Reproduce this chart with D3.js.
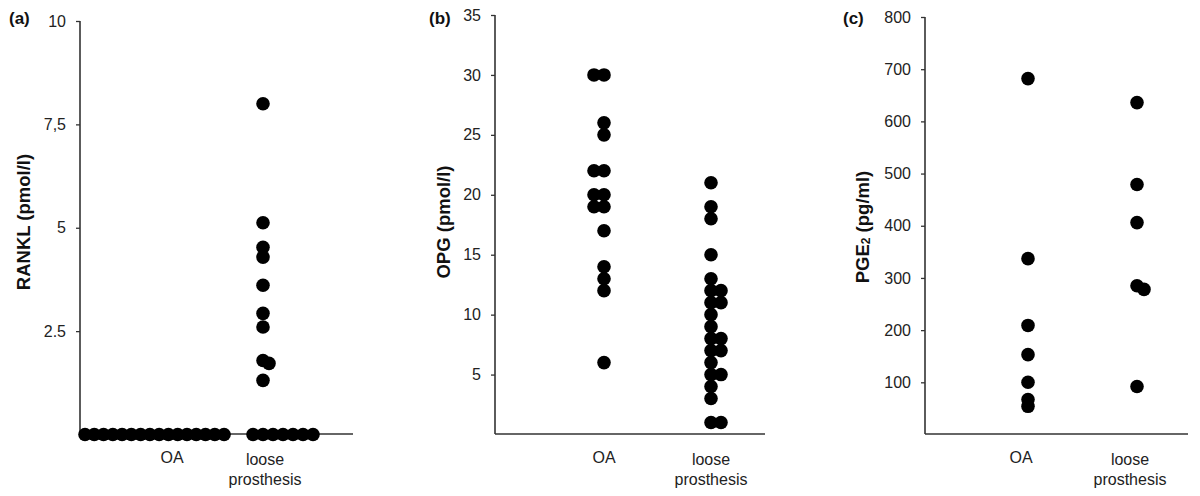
<!DOCTYPE html>
<html>
<head>
<meta charset="utf-8">
<script src="https://cdn.jsdelivr.net/npm/d3@7"></script>
<style>
  html, body { margin: 0; padding: 0; background: #fff; }
  svg { display: block; }
  text { font-family: "Liberation Sans", Arial, sans-serif; }
</style>
</head>
<body>
<svg id="chart" width="1200" height="496"></svg>
<script>
// ---------------- data ----------------
const categories = ["OA", "loose prosthesis"];

const ranklOA    = [0, 0, 0, 0, 0, 0, 0, 0, 0, 0, 0, 0, 0, 0, 0, 0];
const ranklLoose = [8.0, 5.12, 4.53, 4.29, 3.61, 2.93, 2.60, 1.79, 1.72, 1.31, 0, 0, 0, 0, 0, 0, 0];

const opgOA    = [30, 30, 26, 25, 22, 22, 20, 20, 19, 19, 17, 14, 13, 12, 6];
const opgLoose = [21, 19, 18, 15, 13, 12, 12, 11, 11, 10, 9, 8, 8, 7, 7, 6, 5, 5, 4, 3, 1, 1];

const pgeOA    = [682, 337, 209, 153, 100, 67, 54];
const pgeLoose = [636, 479, 406, 285, 278, 92];

const ranklTickValues = [10, 7.5, 5, 2.5];
const ranklTickLabels = ["10", "7,5", "5", "2.5"];
const opgTickValues = [35, 30, 25, 20, 15, 10, 5];
const opgTickLabels = ["35", "30", "25", "20", "15", "10", "5"];
const pgeTickValues = [800, 700, 600, 500, 400, 300, 200, 100];
const pgeTickLabels = ["800", "700", "600", "500", "400", "300", "200", "100"];

// ---------------- layout ----------------
const svg = d3.select("#chart");
const baseY = 434;

const panels = [
  {
    tag: "(a)", tagX: 9,
    title: "RANKL (pmol/l)", titleX: 23, titleY: 222,
    axisX: 80, axisEnd: 353, topY: 21, domain: [0, 10],
    tickValues: ranklTickValues, tickLabels: ranklTickLabels,
    catX: [172, 265], colShift: -2,
    groups: [
      { values: ranklOA, dir: 1, step: 6, zeroStart: -85, zeroStep: 9.27 },
      { values: ranklLoose, dir: 1, step: 6, zeroStart: -10, zeroStep: 10 }
    ]
  },
  {
    tag: "(b)", tagX: 429,
    title: "OPG (pmol/l)", titleX: 443, titleY: 222,
    axisX: 495, axisEnd: 765, topY: 15, domain: [0, 35],
    tickValues: opgTickValues, tickLabels: opgTickLabels,
    catX: [604, 711], colShift: 0,
    groups: [
      { values: opgOA, dir: -1, step: 10 },
      { values: opgLoose, dir: 1, step: 10 }
    ]
  },
  {
    tag: "(c)", tagX: 843,
    title: "PGE2 (pg/ml)", sub: true, titleX: 862, titleY: 227,
    axisX: 925, axisEnd: 1188, topY: 17, domain: [0, 800],
    tickValues: pgeTickValues, tickLabels: pgeTickLabels,
    catX: [1021, 1130], colShift: 7,
    groups: [
      { values: pgeOA, dir: 1, step: 7 },
      { values: pgeLoose, dir: 1, step: 7 }
    ]
  }
];

const R = 6.8;
const axisColor = "#333";
const textColor = "#222";

panels.forEach(p => {
  const y = d3.scaleLinear().domain(p.domain).range([baseY + (p.topY - baseY) * 0 + 0, p.topY]);
  // y(0) at baseline, y(max) at top tick
  y.range([baseY + 0.5, p.topY]);
  const x = d3.scalePoint().domain(categories).range(p.catX);

  const g = svg.append("g");

  // y axis
  const yAxis = d3.axisLeft(y)
    .tickValues(p.tickValues)
    .tickFormat((d, i) => p.tickLabels[i])
    .tickSize(4)
    .tickPadding(10);
  const ya = g.append("g").attr("transform", `translate(${p.axisX},0)`).call(yAxis);
  ya.select(".domain").remove();
  ya.selectAll(".tick line").attr("stroke", axisColor).attr("stroke-width", 1.3);
  ya.selectAll(".tick text")
    .attr("fill", textColor)
    .style("font-size", "16px")
    .style("font-family", "'Liberation Sans', Arial, sans-serif");

  // axis lines
  g.append("line")
    .attr("x1", p.axisX).attr("x2", p.axisX)
    .attr("y1", y(p.domain[1])).attr("y2", baseY)
    .attr("stroke", axisColor).attr("stroke-width", 1.6);
  g.append("line")
    .attr("x1", p.axisX).attr("x2", p.axisEnd)
    .attr("y1", baseY).attr("y2", baseY)
    .attr("stroke", axisColor).attr("stroke-width", 1.6);

  // category labels
  categories.forEach(c => {
    const words = c.split(" ");
    const t = g.append("text")
      .attr("x", x(c)).attr("text-anchor", "middle")
      .attr("fill", textColor).style("font-size", "16px");
    if (words.length === 1) {
      t.attr("y", 463).text(c);
    } else {
      t.append("tspan").attr("x", x(c)).attr("y", 465).text(words[0]);
      t.append("tspan").attr("x", x(c)).attr("y", 485).text(words[1]);
    }
  });

  // points with simple dodge
  p.groups.forEach((grp, gi) => {
    const cx = x(categories[gi]) + p.colShift;
    const placed = [];
    let zi = 0;
    grp.values.forEach(v => {
      const py = y(v);
      let px;
      if (v === 0 && grp.zeroStart !== undefined) {
        px = cx + grp.zeroStart + zi * grp.zeroStep;
        zi++;
      } else {
        let slot = 0;
        while (placed.some(q => q.slot === slot && Math.abs(q.py - py) < 6)) slot++;
        placed.push({ slot, py });
        px = cx + slot * grp.dir * grp.step;
      }
      g.append("circle").attr("cx", px).attr("cy", py).attr("r", R).attr("fill", "#000");
    });
  });

  // axis title
  const tt = g.append("text")
    .attr("transform", `translate(${p.titleX},${p.titleY}) rotate(-90)`)
    .attr("text-anchor", "middle").attr("dominant-baseline", "central")
    .attr("fill", "#111").style("font-size", "18.5px").style("font-weight", "bold");
  if (p.sub) {
    tt.append("tspan").text("PGE");
    tt.append("tspan").attr("dy", 4).style("font-size", "12px").text("2");
    tt.append("tspan").attr("dy", -4).text(" (pg/ml)");
  } else {
    tt.text(p.title);
  }

  // panel tag
  g.append("text").attr("x", p.tagX).attr("y", 24)
    .attr("fill", "#111").style("font-size", "17px").style("font-weight", "bold")
    .text(p.tag);
});
</script>
</body>
</html>
